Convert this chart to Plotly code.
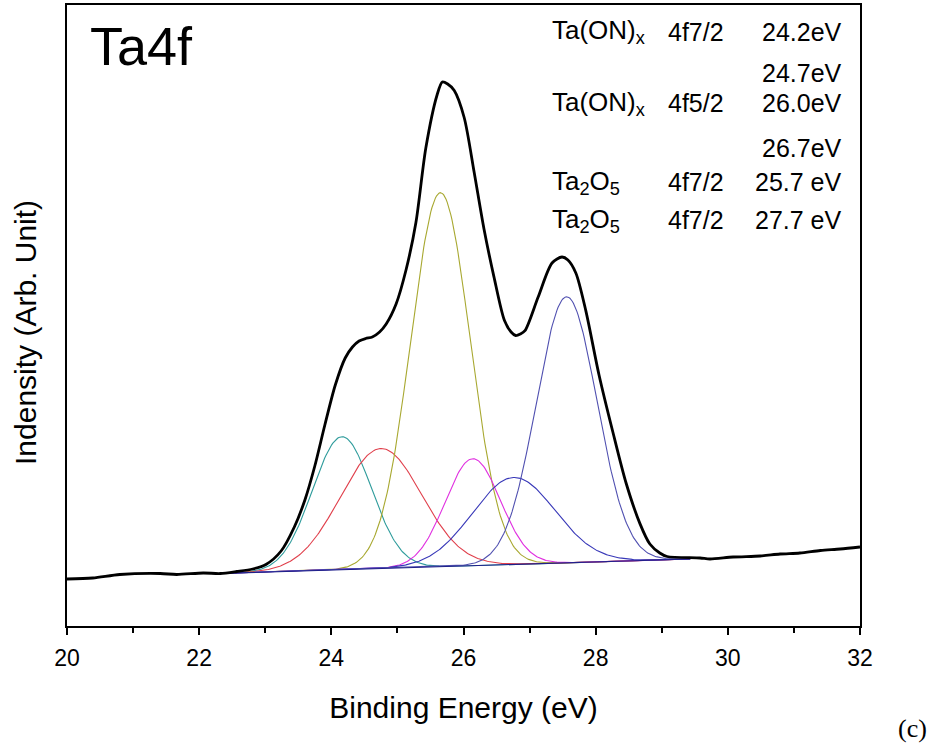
import numpy as np
import plotly.graph_objects as go

env_x = [20.00, 20.39, 20.80, 21.41, 21.66, 22.06, 22.32, 22.57, 22.81, 23.01,
         23.24, 23.44, 23.60, 23.75, 23.90, 24.06, 24.21, 24.32, 24.42, 24.52,
         24.62, 24.73, 24.83, 24.98, 25.13, 25.28, 25.43, 25.60, 25.68, 25.76,
         25.86, 26.01, 26.16, 26.31, 26.46, 26.62, 26.72, 26.79, 26.86, 26.93,
         27.13, 27.34, 27.49, 27.58, 27.70, 27.85, 28.05, 28.26, 28.46, 28.67,
         28.82, 28.97, 29.08, 29.58, 29.73, 30.08, 30.49, 30.79, 31.09, 31.40,
         31.70, 32.00]
env_y = [47, 48, 51.5, 52.5, 51.5, 53, 52.5, 54.5, 57, 61.5,
         75, 99, 126, 160, 200.5, 241, 268, 279, 285, 287.5,
         289, 294, 302, 322, 356, 403.5, 478, 531, 544, 542,
         535.5, 508.5, 454.3, 397, 349.4, 305.4, 294, 290.5, 292, 295.3,
         329, 363, 369, 366, 353, 315.6, 251.3, 194, 143, 102.4,
         82, 73, 69.5, 68, 67, 69, 70, 72, 73, 75.5,
         77, 79]

# ---- fitted components (Gaussian fit parameters) ----
comp_center = [24.16, 24.75, 25.65, 26.14, 26.76, 27.56]
comp_height = [133, 120, 374, 107, 87, 266]
comp_fwhm = [1.05, 1.45, 1.06, 0.98, 1.47, 1.08]
comp_color = ["#2f9c9c", "#e0404c", "#a8a830", "#e030e0", "#3838b8", "#5050b0"]

# linear background under the components
bg_x = [22.31, 29.43]
bg_y = [52.5, 67.0]

# ---- annotation texts ----
ann_labels = ["Ta(ON)<sub>x</sub>", "", "Ta(ON)<sub>x</sub>", "", "Ta<sub>2</sub>O<sub>5</sub>", "Ta<sub>2</sub>O<sub>5</sub>"]
ann_orbit = ["4f7/2", "", "4f5/2", "", "4f7/2", "4f7/2"]
ann_energy = ["24.2eV", "24.7eV", "26.0eV", "26.7eV", "25.7 eV", "27.7 eV"]
ann_ypix = [32, 73, 103, 148, 182, 220]

FONT = "Arial, Liberation Sans, sans-serif"

fig = go.Figure()

xs = np.linspace(bg_x[0], bg_x[1], 400)
bg = np.interp(xs, bg_x, bg_y)

for c, h, w, col in zip(comp_center, comp_height, comp_fwhm, comp_color):
    sig = w / 2.3548
    ys = bg + h * np.exp(-0.5 * ((xs - c) / sig) ** 2)
    fig.add_trace(go.Scatter(x=xs, y=ys, mode="lines",
                             line=dict(color=col, width=1.1), showlegend=False,
                             hoverinfo="skip"))

fig.add_trace(go.Scatter(x=bg_x, y=bg_y, mode="lines",
                         line=dict(color="#20208a", width=1.1), showlegend=False))

fig.add_trace(go.Scatter(x=env_x, y=env_y, mode="lines",
                         line=dict(color="black", width=2.8, shape="spline", smoothing=0.8),
                         showlegend=False))

L, R, T, B = 67, 72, 5, 118
W, H = 932, 744
pw, ph = W - L - R, H - T - B


def px2paper(px, py):
    return (px - L) / pw, (H - B - py) / ph


annotations = []
for lab, orb, en, py in zip(ann_labels, ann_orbit, ann_energy, ann_ypix):
    _, yp = px2paper(0, py)
    if lab:
        annotations.append(dict(x=px2paper(550, 0)[0], y=yp, xref="paper", yref="paper",
                                text=lab, showarrow=False, xanchor="left", yanchor="middle",
                                font=dict(size=26, family=FONT, color="black")))
    if orb:
        annotations.append(dict(x=px2paper(666, 0)[0], y=yp, xref="paper", yref="paper",
                                text=orb, showarrow=False, xanchor="left", yanchor="middle",
                                font=dict(size=25, family=FONT, color="black")))
    annotations.append(dict(x=px2paper(844, 0)[0], y=yp, xref="paper", yref="paper",
                            text=en, showarrow=False, xanchor="right", yanchor="middle",
                            font=dict(size=25, family=FONT, color="black")))

tx, ty = px2paper(88, 46)
annotations.append(dict(x=tx, y=ty, xref="paper", yref="paper", text="Ta4f",
                        showarrow=False, xanchor="left", yanchor="middle",
                        font=dict(size=54, family=FONT, color="black")))
cx, cy = px2paper(912, 728)
annotations.append(dict(x=cx, y=cy, xref="paper", yref="paper", text="(c)",
                        showarrow=False, xanchor="center", yanchor="middle",
                        font=dict(size=26, family="Times New Roman, Liberation Serif, serif",
                                  color="black")))
yx, yy = px2paper(25, 333)
annotations.append(dict(x=yx, y=yy, xref="paper", yref="paper", text="Indensity (Arb. Unit)",
                        textangle=-90, showarrow=False, xanchor="center", yanchor="middle",
                        font=dict(size=30, family=FONT, color="black")))

fig.update_layout(
    width=W, height=H,
    margin=dict(l=L, r=R, t=T, b=B),
    paper_bgcolor="white", plot_bgcolor="white",
    font=dict(family=FONT, color="black"),
    annotations=annotations,
    xaxis=dict(range=[20, 32], showgrid=False, zeroline=False,
               showline=True, mirror=True, linecolor="black", linewidth=2,
               ticks="outside", ticklen=7, tickwidth=2, tickcolor="black",
               tick0=20, dtick=2, tickfont=dict(size=23, family=FONT),
               ticklabelstandoff=3,
               minor=dict(ticks="outside", ticklen=5, tickwidth=2, dtick=1, tickcolor="black"),
               title=dict(text="Binding Energy (eV)", font=dict(size=30, family=FONT),
                          standoff=27),
               automargin=False),
    yaxis=dict(range=[0, 621], showgrid=False, zeroline=False,
               showline=True, mirror=True, linecolor="black", linewidth=2,
               ticks="", showticklabels=False, automargin=False),
)

fig.write_html("out.html")
